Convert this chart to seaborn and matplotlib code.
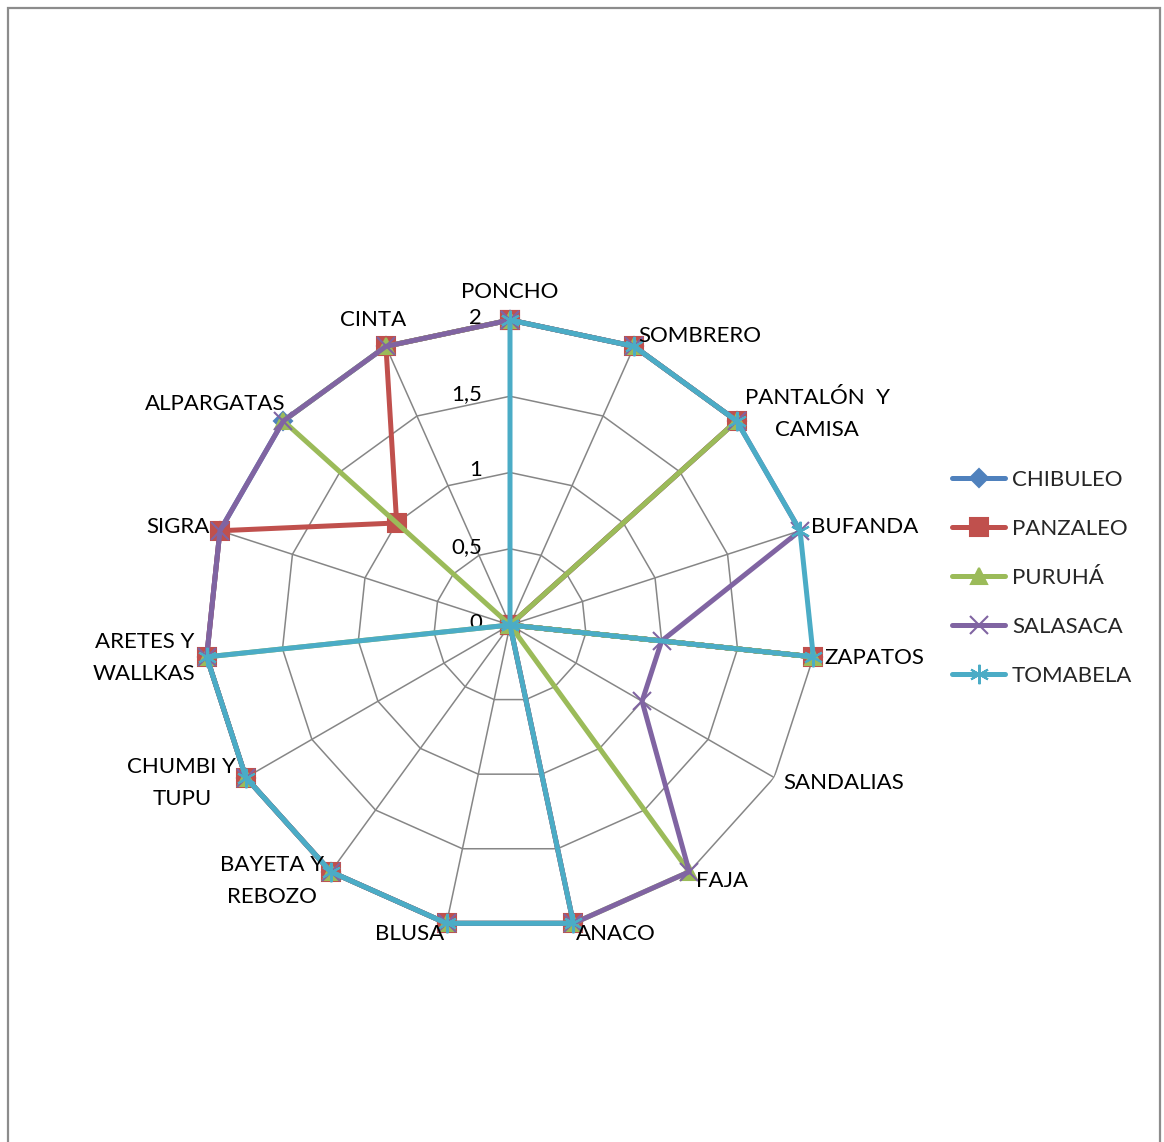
import numpy as np
import pandas as pd
import matplotlib
matplotlib.use("Agg")
import matplotlib.pyplot as plt
from matplotlib.lines import Line2D
from matplotlib.patches import Rectangle
import seaborn as sns

# Garment categories (clockwise from the top)
categories = [
    "PONCHO", "SOMBRERO", "PANTALÓN  Y\nCAMISA", "BUFANDA", "ZAPATOS",
    "SANDALIAS", "FAJA", "ANACO", "BLUSA", "BAYETA Y\nREBOZO",
    "CHUMBI Y\nTUPU", "ARETES Y\nWALLKAS", "SIGRA", "ALPARGATAS", "CINTA",
]

chibuleo = [2, 2, 2, 0, 2, 0, 0, 2, 2, 2, 2, 2, 2, 2, 2]
panzaleo = [2, 2, 2, 0, 2, 0, 0, 2, 2, 2, 2, 2, 2, 1, 2]
puruha   = [2, 2, 2, 0, 2, 0, 2, 2, 2, 2, 2, 2, 0, 2, 2]
salasaca = [2, 2, 2, 2, 1, 1, 2, 2, 2, 2, 2, 2, 2, 2, 2]
tomabela = [2, 2, 2, 2, 2, 0, 0, 2, 2, 2, 2, 2, 0, 0, 0]

series_names = ["CHIBULEO", "PANZALEO", "PURUHÁ", "SALASACA", "TOMABELA"]
series_values = [chibuleo, panzaleo, puruha, salasaca, tomabela]

ring_values = [0.5, 1, 1.5, 2]
tick_values = [0, 0.5, 1, 1.5, 2]
tick_labels = ["0", "0,5", "1", "1,5", "2"]

colors = ["#4F81BD", "#C0504D", "#9BBB59", "#8064A2", "#4BACC6"]
markers = ["D", "s", "^", "x", (6, 2, 0)]
marker_sizes = [9, 13, 12, 13, 14]

sns.set_theme(style="white")
plt.rcParams["font.family"] = ["Lato", "DejaVu Sans"]

W, H = 1164, 1142
fig = plt.figure(figsize=(W / 100, H / 100), dpi=100)
fig.patch.set_facecolor("white")

# chart-area border
fig.add_artist(Rectangle((8 / W, -0.05), (1160 - 8) / W, 1.05 - 8 / H,
                         transform=fig.transFigure, fill=False,
                         edgecolor="#8c8c8c", linewidth=1.6))

cx, cy, R = 510, 625, 305
ax = fig.add_axes([(cx - R) / W, (H - cy - R) / H, 2 * R / W, 2 * R / H],
                  projection="polar")
ax.set_theta_zero_location("N")
ax.set_theta_direction(-1)
ax.set_ylim(0, 2)
ax.grid(False)
ax.spines["polar"].set_visible(False)
ax.set_xticks([])
ax.set_yticks([])
ax.patch.set_alpha(0)

n = len(categories)
theta = np.linspace(0, 2 * np.pi, n, endpoint=False)
theta_closed = np.append(theta, 2 * np.pi)

grid_color = "#868686"
for r in ring_values:
    ax.plot(theta_closed, [r] * (n + 1), color=grid_color, lw=1.1, zorder=1)
for t in theta:
    ax.plot([t, t], [0, 2], color=grid_color, lw=1.1, zorder=1)

rows = []
for name, vals in zip(series_names, series_values):
    closed = list(vals) + [vals[0]]
    for t, v in zip(theta_closed, closed):
        rows.append({"series": name, "theta": t, "value": v})
df = pd.DataFrame(rows)

for i, name in enumerate(series_names):
    sub = df[df["series"] == name]
    sns.lineplot(data=sub, x="theta", y="value", ax=ax, sort=False,
                 estimator=None, color=colors[i], linewidth=3.6,
                 marker=markers[i], markersize=marker_sizes[i],
                 markeredgecolor=colors[i], markeredgewidth=1.5,
                 label=name, zorder=3 + i, clip_on=False)
ax.set_xlabel("")
ax.set_ylabel("")
ax.set_ylim(0, 2)
if ax.get_legend() is not None:
    ax.get_legend().remove()

# value-axis labels along the first spoke
for v, lab in zip(tick_values, tick_labels):
    ax.annotate(lab, xy=(0, v), xytext=(-28, 2), textcoords="offset pixels",
                ha="right", va="center", fontsize=16, color="black",
                annotation_clip=False)

# category labels around the outer ring
for t, lab in zip(theta, categories):
    s, c = np.sin(t), np.cos(t)
    d = 11
    dx, dy = d * s, d * c
    if abs(s) < 0.15:
        ha = "center"
        va = "bottom" if c > 0 else "top"
        dy = 18 if c > 0 else -14
    elif s < -0.3 and c > 0.85:
        ha, va = "center", "bottom"
        dx, dy = -13, 16
    elif s < -0.6 and c > 0.6:
        ha, va = "right", "center"
        dx, dy = 2, 17
    else:
        ha = "left" if s > 0 else "right"
        va = "center"
    ax.annotate(lab, xy=(t, 2), xytext=(dx, dy), textcoords="offset pixels",
                ha=ha, va=va, multialignment="center", linespacing=1.75,
                fontsize=16, color="black", annotation_clip=False, zorder=10)

handles = [Line2D([0], [0], color=colors[i], lw=3.6, marker=markers[i],
                  markersize=marker_sizes[i], markeredgecolor=colors[i],
                  markeredgewidth=1.5) for i in range(len(series_names))]
fig.legend(handles, series_names, loc="center left",
           bbox_to_anchor=(941 / W, 1 - 578 / H), frameon=False,
           fontsize=16, handlelength=2.4, handletextpad=0.3,
           labelspacing=1.3, borderpad=0)

fig.savefig("out.png", dpi=100, facecolor="white")
